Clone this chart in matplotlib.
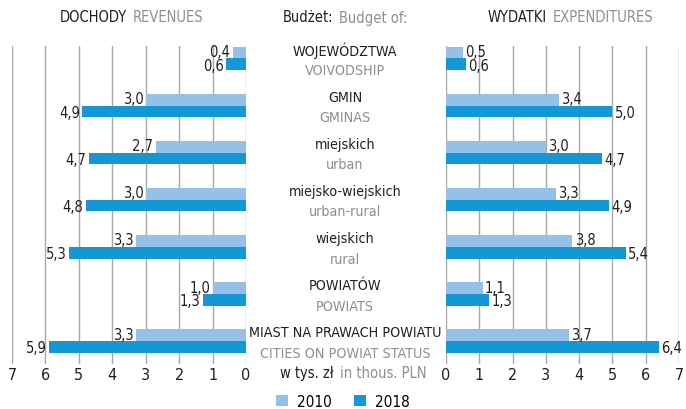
import matplotlib.pyplot as plt
import matplotlib.transforms as mtransforms

plt.rcParams['font.family'] = ['Liberation Sans Narrow', 'DejaVu Sans']
plt.rcParams['font.stretch'] = 'condensed'

# budget units, top to bottom
units_pl = ['WOJEWÓDZTWA', 'GMIN', 'miejskich', 'miejsko-wiejskich',
            'wiejskich', 'POWIATÓW', 'MIAST NA PRAWACH POWIATU']
units_en = ['VOIVODSHIP', 'GMINAS', 'urban', 'urban-rural',
            'rural', 'POWIATS', 'CITIES ON POWIAT STATUS']

# per capita, thous. PLN
revenues_2010 = [0.4, 3.0, 2.7, 3.0, 3.3, 1.0, 3.3]
revenues_2018 = [0.6, 4.9, 4.7, 4.8, 5.3, 1.3, 5.9]
expenditures_2010 = [0.5, 3.4, 3.0, 3.3, 3.8, 1.1, 3.7]
expenditures_2018 = [0.6, 5.0, 4.7, 4.9, 5.4, 1.3, 6.4]

years = ['2010', '2018']
ticks = [0, 1, 2, 3, 4, 5, 6, 7]

LIGHT = '#93c1e8'
DARK = '#1497d5'
GREY = '#8f8f8f'
INK = '#231f20'
GRID = '#a8a8a8'
BAR_H = 0.25


def fmt(v):
    return f'{v:.1f}'.replace('.', ',')


def draw_side(ax, vals_a, vals_b, right):
    ys = list(range(len(vals_a)))
    b1 = ax.barh([y - BAR_H / 2 for y in ys], vals_a, height=BAR_H,
                 color=LIGHT, zorder=2)
    b2 = ax.barh([y + BAR_H / 2 for y in ys], vals_b, height=BAR_H,
                 color=DARK, zorder=2)
    ha = 'left' if right else 'right'
    for y, a, b in zip(ys, vals_a, vals_b):
        ax.text(a + 0.07, y - BAR_H / 2 - 0.02, fmt(a), ha=ha, va='center',
                fontsize=10.5, color=INK)
        ax.text(b + 0.07, y + BAR_H / 2 + 0.02, fmt(b), ha=ha, va='center',
                fontsize=10.5, color=INK)
    ax.set_xlim((0, 7) if right else (7, 0))
    ax.set_ylim(6.49, -0.265)
    ax.set_xticks(ticks)
    ax.set_yticks([])
    ax.grid(axis='x', color=GRID, lw=1.0)
    ax.set_axisbelow(True)
    ax.tick_params(axis='x', length=0, pad=2, labelsize=11.5, labelcolor=INK)
    for s in ax.spines.values():
        s.set_visible(False)
    return b1, b2


fig = plt.figure(figsize=(6.86, 4.10), dpi=100)
ax_l = fig.add_axes([12 / 686, 1 - 365 / 410, 234 / 686, 318 / 410])
ax_r = fig.add_axes([446 / 686, 1 - 365 / 410, 233 / 686, 318 / 410])

bars = draw_side(ax_l, revenues_2010, revenues_2018, right=False)
draw_side(ax_r, expenditures_2010, expenditures_2018, right=True)

# unit names between the two panels
tr = mtransforms.blended_transform_factory(fig.transFigure, ax_l.transData)
xc = 345 / 686
for i, (pl, en) in enumerate(zip(units_pl, units_en)):
    fig.text(xc, i - 0.18, pl, transform=tr, ha='center', va='center',
             fontsize=10.3, color=INK)
    fig.text(xc, i + 0.25, en, transform=tr, ha='center', va='center',
             fontsize=10.3, color=GREY)


def pair(x_gap, y, black, grey, size=10.5):
    fig.text((x_gap - 3) / 686, 1 - y / 410, black, ha='right', va='center',
             fontsize=size, color=INK)
    fig.text((x_gap + 3) / 686, 1 - y / 410, grey, ha='left', va='center',
             fontsize=size, color=GREY)


pair(130, 18, 'DOCHODY', 'REVENUES')
pair(336, 18, 'Budżet:', 'Budget of:')
pair(550, 18, 'WYDATKI', 'EXPENDITURES')
pair(337, 374, 'w tys. zł', 'in thous. PLN')

fig.legend(bars, years, loc='center', bbox_to_anchor=(0.5, 1 - 402.5 / 410),
           ncol=2, frameon=False, handlelength=0.75, handleheight=0.75,
           columnspacing=1.5, handletextpad=0.6, fontsize=11)

fig.savefig('out.png', dpi=100)
